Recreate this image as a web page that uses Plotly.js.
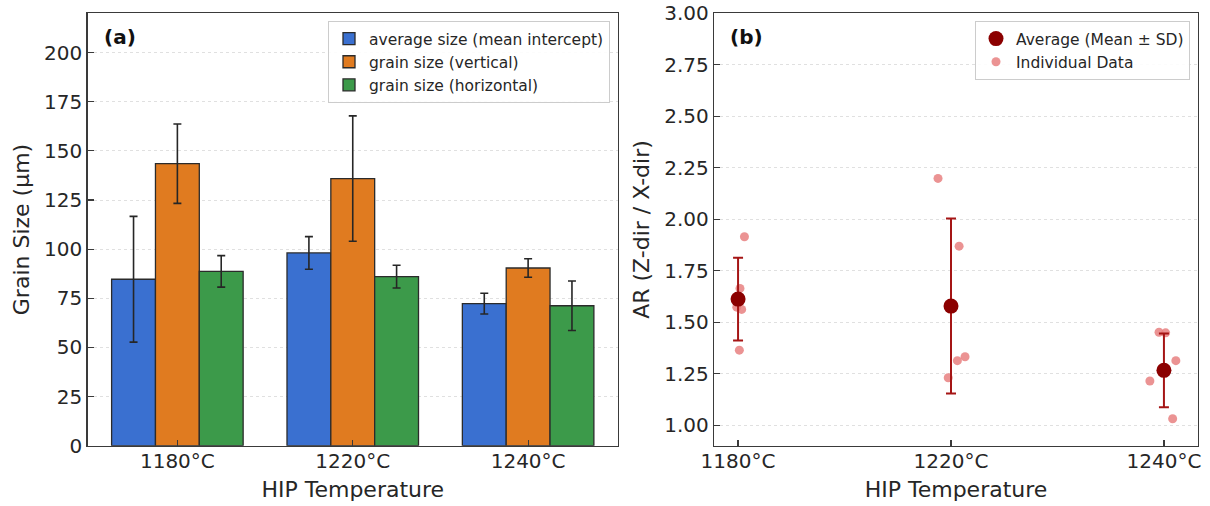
<!DOCTYPE html>
<html>
<head>
<meta charset="utf-8">
<script src="https://cdn.plot.ly/plotly-3.0.1.min.js"></script>
<style>html,body{margin:0;padding:0;background:#fff;}#chart{width:1210px;height:506px;}</style>
</head>
<body>
<div id="chart"></div>
<script>
// ---- data ----
const temps = ["1180°C", "1220°C", "1240°C"];
const avgSize = [84.7, 98.1, 72.3];
const avgSizeErr = [32.0, 8.3, 5.3];
const vertSize = [143.5, 135.9, 90.4];
const vertSizeErr = [20.2, 31.9, 4.7];
const horzSize = [88.7, 86.0, 71.2];
const horzSizeErr = [8.0, 5.8, 12.6];

const arMean = [1.612, 1.578, 1.266];
const arSD = [0.201, 0.425, 0.179];
// individual AR values per temperature and their horizontal jitter
const arIndiv1180 = [1.915, 1.664, 1.573, 1.562, 1.364];
const arIndiv1220 = [2.198, 1.869, 1.332, 1.313, 1.230];
const arIndiv1240 = [1.451, 1.448, 1.313, 1.214, 1.031];
const jitter1180 = [0.030, 0.009, -0.006, 0.017, 0.006];
const jitter1220 = [-0.061, 0.038, 0.066, 0.030, -0.013];
const jitter1240 = [-0.023, 0.008, 0.056, -0.066, 0.041];

const idx = temps.map((_, i) => i);
const W = 1210, H = 506;
const px = v => v / W, py = v => 1 - v / H;

const font = "DejaVu Sans, sans-serif";
const txt = "#262626";
const frame = "#3a3a3a";

function barTrace(name, y, err, color, offset) {
  return {
    type: "bar", name: name, x: idx, y: y, width: 0.25, offset: offset,
    marker: {color: color, line: {color: "#2b2b2b", width: 1.3}},
    error_y: {type: "data", array: err, visible: true, color: "#262626", thickness: 1.6, width: 4},
    xaxis: "x", yaxis: "y", legend: "legend"
  };
}

const indivX = [], indivY = [];
[[arIndiv1180, jitter1180], [arIndiv1220, jitter1220], [arIndiv1240, jitter1240]].forEach((pair, i) => {
  pair[0].forEach((v, k) => { indivX.push(i + pair[1][k]); indivY.push(v); });
});

const traces = [
  barTrace("average size (mean intercept)", avgSize, avgSizeErr, "#3a70d0", -0.375),
  barTrace("grain size (vertical)", vertSize, vertSizeErr, "#e07b20", -0.125),
  barTrace("grain size (horizontal)", horzSize, horzSizeErr, "#3c9a4a", 0.125),
  {
    type: "scatter", mode: "markers", name: "Individual Data", x: indivX, y: indivY,
    marker: {color: "rgba(232,128,128,0.85)", size: 9},
    xaxis: "x2", yaxis: "y2", legend: "legend2", legendrank: 2
  },
  {
    type: "scatter", mode: "markers", name: "Average (Mean ± SD)", x: idx, y: arMean,
    marker: {color: "#8b0000", size: 15},
    error_y: {type: "data", array: arSD, visible: true, color: "#a51515", thickness: 2, width: 5},
    xaxis: "x2", yaxis: "y2", legend: "legend2", legendrank: 1
  }
];

const axBase = {
  showline: true, mirror: true, linecolor: frame, linewidth: 1.3,
  ticks: "inside", ticklen: 6, tickwidth: 1.2, tickcolor: frame,
  tickfont: {family: font, size: 20, color: txt}, zeroline: false, automargin: false
};
const titleFont = {family: font, size: 22, color: txt};

const layout = {
  width: W, height: H,
  margin: {l: 0, r: 0, t: 0, b: 0},
  paper_bgcolor: "#fff", plot_bgcolor: "#fff",
  font: {family: font, color: txt},
  barmode: "overlay",
  showlegend: true,
  xaxis: Object.assign({}, axBase, {
    domain: [px(87.5), px(618)], range: [-0.5125, 2.5125],
    tickmode: "array", tickvals: idx, ticktext: temps, showgrid: false, ticklabelstandoff: -3,
    title: {text: "HIP Temperature", font: titleFont, standoff: 9}
  }),
  yaxis: Object.assign({}, axBase, {
    domain: [py(445.7), py(13.3)], range: [0, 220],
    tickmode: "linear", tick0: 0, dtick: 25,
    showgrid: true, gridcolor: "#e0e0e0", griddash: "dot", gridwidth: 1,
    title: {text: "Grain Size (µm)", font: titleFont, standoff: 8}
  }),
  xaxis2: Object.assign({}, axBase, {
    domain: [px(714), px(1198)], range: [-0.113, 2.16], anchor: "y2",
    tickmode: "array", tickvals: idx, ticktext: temps, showgrid: false, ticklabelstandoff: -3,
    title: {text: "HIP Temperature", font: titleFont, standoff: 9}
  }),
  yaxis2: Object.assign({}, axBase, {
    domain: [py(445.7), py(13.3)], range: [0.9, 3.0], anchor: "x2",
    tickmode: "linear", tick0: 1, dtick: 0.25, tickformat: ".2f",
    showgrid: true, gridcolor: "#e0e0e0", griddash: "dot", gridwidth: 1,
    title: {text: "AR (Z-dir / X-dir)", font: titleFont, standoff: 8}
  }),
  legend: {
    x: px(610), y: py(21), xanchor: "right", yanchor: "top",
    bgcolor: "rgba(255,255,255,0.9)", bordercolor: "#cccccc", borderwidth: 1,
    font: {family: font, size: 15.5, color: txt}, traceorder: "normal"
  },
  legend2: {
    x: px(1190), y: py(21), xanchor: "right", yanchor: "top",
    bgcolor: "rgba(255,255,255,0.9)", bordercolor: "#cccccc", borderwidth: 1,
    font: {family: font, size: 15.5, color: txt}, traceorder: "normal"
  },
  annotations: [
    {text: "<b>(a)</b>", xref: "paper", yref: "paper", x: px(102), y: py(37), xanchor: "left", yanchor: "middle",
     showarrow: false, font: {family: font, size: 20, color: "#111"}},
    {text: "<b>(b)</b>", xref: "paper", yref: "paper", x: px(728), y: py(37), xanchor: "left", yanchor: "middle",
     showarrow: false, font: {family: font, size: 20, color: "#111"}}
  ]
};

Plotly.newPlot("chart", traces, layout, {displayModeBar: false, staticPlot: true});
</script>
</body>
</html>
